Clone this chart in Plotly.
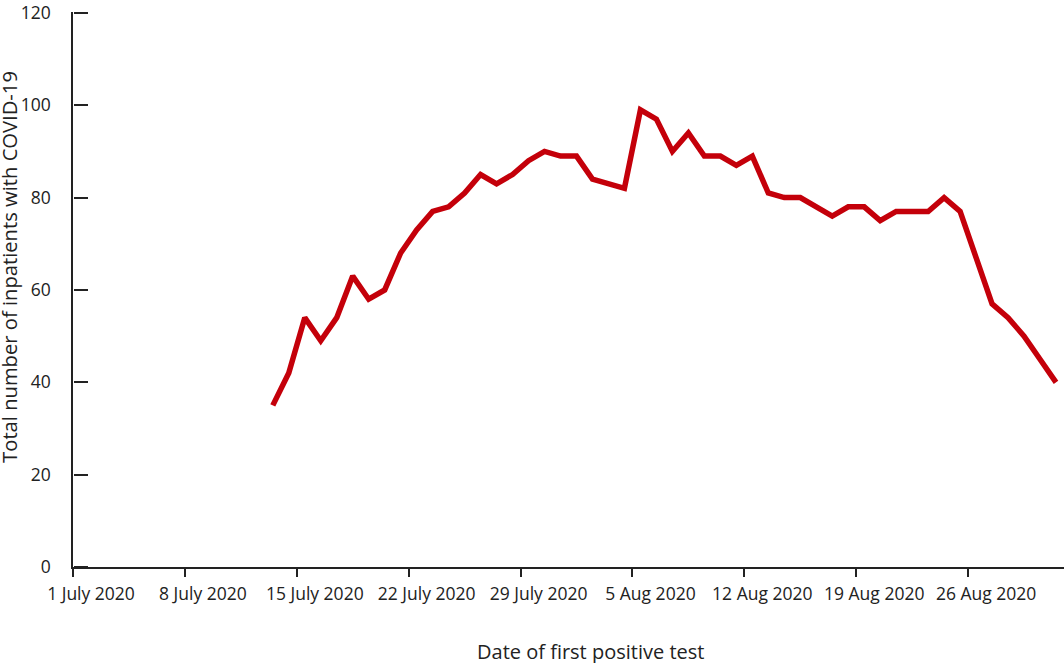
import pandas as pd
import plotly.graph_objects as go

# Daily total of inpatients, 13 July - 31 Aug 2020
start_date = "2020-07-13 12:00"
inpatients = [35, 42, 54, 49, 54, 63, 58, 60, 68, 73,
              77, 78, 81, 85, 83, 85, 88, 90, 89, 89,
              84, 83, 82, 99, 97, 90, 94, 89, 89, 87,
              89, 81, 80, 80, 78, 76, 78, 78, 75, 77,
              77, 77, 80, 77, 67, 57, 54, 50, 45, 40]
dates = pd.date_range(start_date, periods=len(inpatients), freq="D")

tick_dates = ["2020-07-01", "2020-07-08", "2020-07-15", "2020-07-22", "2020-07-29",
              "2020-08-05", "2020-08-12", "2020-08-19", "2020-08-26"]
tick_labels = ["1 July 2020", "8 July 2020", "15 July 2020", "22 July 2020", "29 July 2020",
               "5 Aug 2020", "12 Aug 2020", "19 Aug 2020", "26 Aug 2020"]
y_ticks = [0, 20, 40, 60, 80, 100, 120]
y_range = [0, 120.2]

font_name = "Open Sans"
ink = "#222222"

fig = go.Figure()
fig.add_trace(go.Scatter(x=dates, y=inpatients, mode="lines",
                         line=dict(color="#c4000a", width=5.5),
                         showlegend=False, hoverinfo="skip"))
# empty trace so the tick-only axis gets drawn
fig.add_trace(go.Scatter(x=[None], y=[None], yaxis="y2",
                         showlegend=False, hoverinfo="skip"))

fig.update_layout(
    width=1064, height=663,
    margin=dict(l=73, r=0, t=10, b=96),
    paper_bgcolor="white", plot_bgcolor="white",
    font=dict(family=font_name, size=18, color=ink),
)

# labels in the original sit ~20px right of their tick marks
fig.update_xaxes(
    range=["2020-07-01", "2020-09-01"],
    tickvals=tick_dates, ticktext=tick_labels,
    ticks="outside", ticklen=8, tickwidth=1.5, tickcolor=ink,
    showline=True, linecolor=ink, linewidth=1.5,
    showgrid=False, zeroline=False,
    tickfont=dict(size=17.5),
    ticklabelstandoff=2, ticklabelshift=18,
)
# left axis: line + labels (invisible ticks just push the labels out)
fig.update_layout(yaxis=dict(
    range=y_range, tickvals=y_ticks,
    ticks="outside", ticklen=17, tickcolor="rgba(0,0,0,0)",
    showline=True, linecolor=ink, linewidth=1.5,
    showgrid=False, zeroline=False,
    tickfont=dict(size=17.5),
    ticklabeloverflow="allow",
))
# tick marks pointing into the plot
fig.update_layout(yaxis2=dict(
    range=y_range, tickvals=y_ticks, overlaying="y",
    side="right", anchor="free", position=0,
    ticks="outside", ticklen=14, tickwidth=1.5, tickcolor=ink,
    showticklabels=False, showline=False, showgrid=False, zeroline=False,
))

# axis titles as annotations so they sit where the original has them
fig.add_annotation(text="Date of first positive test", xref="paper", yref="paper",
                   x=0.522, y=-0.1526, xanchor="center", yanchor="middle",
                   showarrow=False, font=dict(size=20, color=ink))
fig.add_annotation(text="Total number of inpatients with COVID-19", xref="paper", yref="paper",
                   x=-0.064, y=0.54, textangle=-90, xanchor="center", yanchor="middle",
                   showarrow=False, font=dict(size=20.2, color=ink))

# drop the default 8px body margin so the figure fills the window
fig.write_html("out.html", config={"displayModeBar": False},
               post_script="document.body.style.margin='0';")
